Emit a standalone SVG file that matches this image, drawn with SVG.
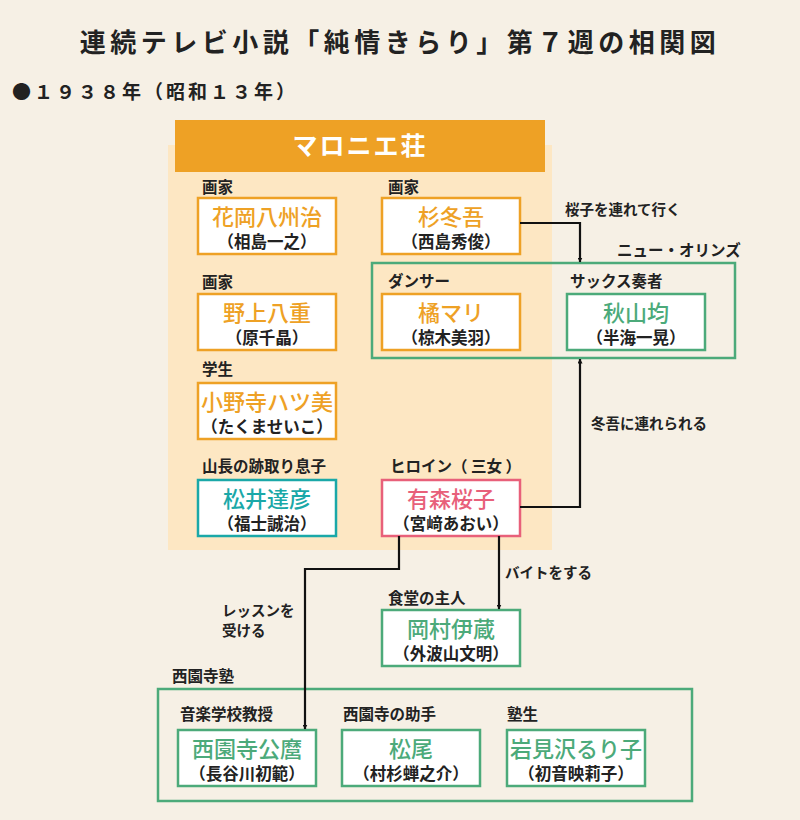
<svg xmlns="http://www.w3.org/2000/svg" width="800" height="820" viewBox="0 0 800 820">
<defs>
<style>
text{font-family:"Noto Sans CJK JP","Noto Sans CJK SC",sans-serif;}
.title{font-size:26px;font-weight:bold;fill:#222;letter-spacing:4.5px;}
.sub{font-size:19px;font-weight:bold;fill:#222;letter-spacing:3px;}
.lbl{font-size:15.5px;font-weight:bold;fill:#222;}
.name{font-size:22px;font-weight:500;text-anchor:middle;}
.actor{font-size:16.5px;font-weight:bold;fill:#222;text-anchor:middle;}
.box{fill:#fff;stroke-width:2.5;}
.o{stroke:#eea125;} .on{fill:#eea125;}
.g{stroke:#4caa7a;} .gn{fill:#4caa7a;}
.t{stroke:#1aa8a8;} .tn{fill:#1aa8a8;}
.p{stroke:#e8607a;} .pn{fill:#e8607a;}
.grp{fill:none;stroke:#4caa7a;stroke-width:2.5;}
.edge{fill:none;stroke:#111;stroke-width:2.2;}
.el{font-size:14.5px;font-weight:bold;fill:#222;}
</style>
<marker id="arr" viewBox="0 0 10 10" refX="9" refY="5" markerWidth="5" markerHeight="5" orient="auto-start-reverse" markerUnits="userSpaceOnUse">
<path d="M0,0 L10,5 L0,10 z" fill="#111"/>
</marker>
</defs>
<rect x="0" y="0" width="800" height="820" fill="#f6f0e5"/>
<text class="title" x="400" y="52" text-anchor="middle">連続テレビ小説「純情きらり」第７週の相関図</text>
<text class="sub" x="12" y="99">●１９３８年（昭和１３年）</text>

<g id="marronnier">
<rect x="168" y="145" width="384" height="405" fill="#fde7c3"/>
<rect x="175" y="120" width="370" height="52" fill="#eea125"/>
<text x="360" y="155" text-anchor="middle" font-size="25" font-weight="bold" fill="#fff" letter-spacing="2">マロニエ荘</text>
</g>

<g id="neworleans">
<rect class="grp" x="372" y="263" width="363" height="95"/>
<text class="lbl" x="617" y="256" font-size="15">ニュー・オリンズ</text>
</g>

<g id="saionjijuku">
<rect class="grp" x="158" y="689" width="534" height="112"/>
<text class="lbl" x="172" y="682" font-size="14">西園寺塾</text>
</g>

<g id="hanaoka">
<text class="lbl" x="202" y="193">画家</text>
<rect class="box o" x="198" y="198" width="138" height="56"/>
<text class="name on" x="267" y="225">花岡八州治</text>
<text class="actor" x="267" y="248">（相島一之）</text>
</g>

<g id="sugi">
<text class="lbl" x="388" y="193">画家</text>
<rect class="box o" x="382" y="198" width="138" height="56"/>
<text class="name on" x="451" y="225">杉冬吾</text>
<text class="actor" x="451" y="248">（西島秀俊）</text>
</g>

<g id="nogami">
<text class="lbl" x="202" y="288">画家</text>
<rect class="box o" x="198" y="294" width="138" height="56"/>
<text class="name on" x="267" y="321">野上八重</text>
<text class="actor" x="267" y="344">（原千晶）</text>
</g>

<g id="onodera">
<text class="lbl" x="202" y="375">学生</text>
<rect class="box o" x="198" y="383" width="138" height="56"/>
<text class="name on" x="267" y="410">小野寺ハツ美</text>
<text class="actor" x="267" y="433">（たくませいこ）</text>
</g>

<g id="matsui">
<text class="lbl" x="202" y="472">山長の跡取り息子</text>
<rect class="box t" x="198" y="480" width="138" height="56"/>
<text class="name tn" x="267" y="507">松井達彦</text>
<text class="actor" x="267" y="530">（福士誠治）</text>
</g>

<g id="arimori">
<text class="lbl" x="390" y="472">ヒロイン（ 三女 ）</text>
<rect class="box p" x="382" y="480" width="138" height="56"/>
<text class="name pn" x="451" y="507">有森桜子</text>
<text class="actor" x="451" y="530">（宮﨑あおい）</text>
</g>

<g id="tachibana">
<text class="lbl" x="388" y="287">ダンサー</text>
<rect class="box o" x="382" y="294" width="138" height="56"/>
<text class="name on" x="451" y="321">橘マリ</text>
<text class="actor" x="451" y="344">（椋木美羽）</text>
</g>

<g id="akiyama">
<text class="lbl" x="570" y="287">サックス奏者</text>
<rect class="box g" x="567" y="294" width="138" height="56"/>
<text class="name gn" x="636" y="321">秋山均</text>
<text class="actor" x="636" y="344">（半海一晃）</text>
</g>

<g id="okamura">
<text class="lbl" x="388" y="604">食堂の主人</text>
<rect class="box g" x="382" y="610" width="138" height="56"/>
<text class="name gn" x="451" y="637">岡村伊蔵</text>
<text class="actor" x="451" y="660">（外波山文明）</text>
</g>

<g id="saionji">
<text class="lbl" x="180" y="720">音楽学校教授</text>
<rect class="box g" x="178" y="730" width="138" height="56"/>
<text class="name gn" x="247" y="757">西園寺公麿</text>
<text class="actor" x="247" y="780">（長谷川初範）</text>
</g>

<g id="matsuo">
<text class="lbl" x="343" y="720">西園寺の助手</text>
<rect class="box g" x="342" y="730" width="138" height="56"/>
<text class="name gn" x="411" y="757">松尾</text>
<text class="actor" x="411" y="780">（村杉蝉之介）</text>
</g>

<g id="iwamizawa">
<text class="lbl" x="507" y="720">塾生</text>
<rect class="box g" x="507" y="730" width="138" height="56"/>
<text class="name gn" x="576" y="757">岩見沢るり子</text>
<text class="actor" x="576" y="780">（初音映莉子）</text>
</g>

<g id="connectors">
<path class="edge" d="M520,223 H580 V262" marker-end="url(#arr)"/>
<text class="el" x="565" y="215">桜子を連れて行く</text>
<path class="edge" d="M520,507 H580 V359" marker-end="url(#arr)"/>
<text class="el" x="591" y="429">冬吾に連れられる</text>
<path class="edge" d="M399,536 V569 H305 V729" marker-end="url(#arr)"/>
<text class="el" x="222" y="616">レッスンを</text>
<text class="el" x="222" y="636">受ける</text>
<path class="edge" d="M499,536 V609" marker-end="url(#arr)"/>
<text class="el" x="505" y="578">バイトをする</text>
</g>
</svg>
